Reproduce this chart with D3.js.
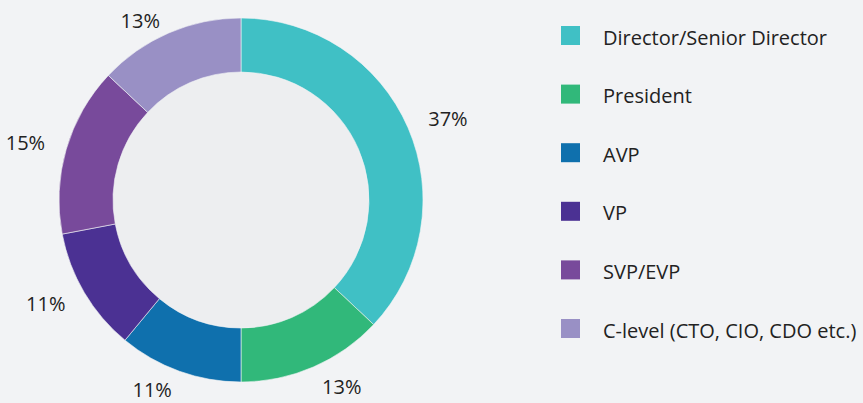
<!DOCTYPE html>
<html><head><meta charset="utf-8">
<script src="https://cdn.jsdelivr.net/npm/d3@7"></script>
<style>
html,body{margin:0;padding:0;background:#f2f3f5;}
svg{display:block;}
text{font-family:"Open Sans",sans-serif;fill:#222;}
</style></head><body>
<svg id="chart" width="863" height="403"></svg>
<script>
const categories = ["Director/Senior Director","President","AVP","VP","SVP/EVP","C-level (CTO, CIO, CDO etc.)"];
const values = [37, 13, 11, 11, 15, 13];
const colors = ["#40c0c5","#31b87a","#0f70ad","#4b3193","#784a9b","#9990c5"];

const W = 863, H = 403;
const cx = 241, cy = 200, rOuter = 182, rInner = 128, rLabel = 204;
const svg = d3.select("#chart");

const pie = d3.pie().sort(null).value(d => d.v);
const data = categories.map((c,i)=>({c, v:values[i], col:colors[i]}));
const arcs = pie(data);
const arc = d3.arc().innerRadius(rInner).outerRadius(rOuter);
const labelArc = d3.arc().innerRadius(rLabel).outerRadius(rLabel);

const g = svg.append("g").attr("transform",`translate(${cx},${cy})`);
g.append("circle").attr("r", rInner).attr("fill","#edeef0");
g.selectAll("path.slice").data(arcs).join("path")
  .attr("class","slice").attr("d", arc).attr("fill", d=>d.data.col)
  .attr("stroke","#f2f3f5").attr("stroke-width",0.6);

const total = d3.sum(values);
g.selectAll("text.lab").data(arcs).join("text")
  .attr("class","lab")
  .each(function(d){
    const [x,y] = labelArc.centroid(d);
    const mid = (d.startAngle+d.endAngle)/2;
    const yy = Math.max(-cy+21, Math.min(H-cy-13, y));
    d3.select(this).attr("x", x).attr("y", yy)
      .attr("text-anchor", mid < Math.PI ? "start" : "end");
  })
  .attr("dy","0.35em")
  .style("font-size","20px")
  .text(d => Math.round(d.data.v/total*100) + "%");

const y = d3.scalePoint().domain(categories).range([35.5, 328.5]);
const leg = svg.append("g");
const items = leg.selectAll("g").data(data).join("g")
  .attr("transform", d=>`translate(561,${y(d.c)})`);
items.append("rect").attr("x",0).attr("y",-9.5).attr("width",19).attr("height",19).attr("fill",d=>d.col);
items.append("text").attr("x",42).attr("y",0).attr("dy","0.45em")
  .style("font-size","20px").text(d=>d.c);
</script>
</body></html>
